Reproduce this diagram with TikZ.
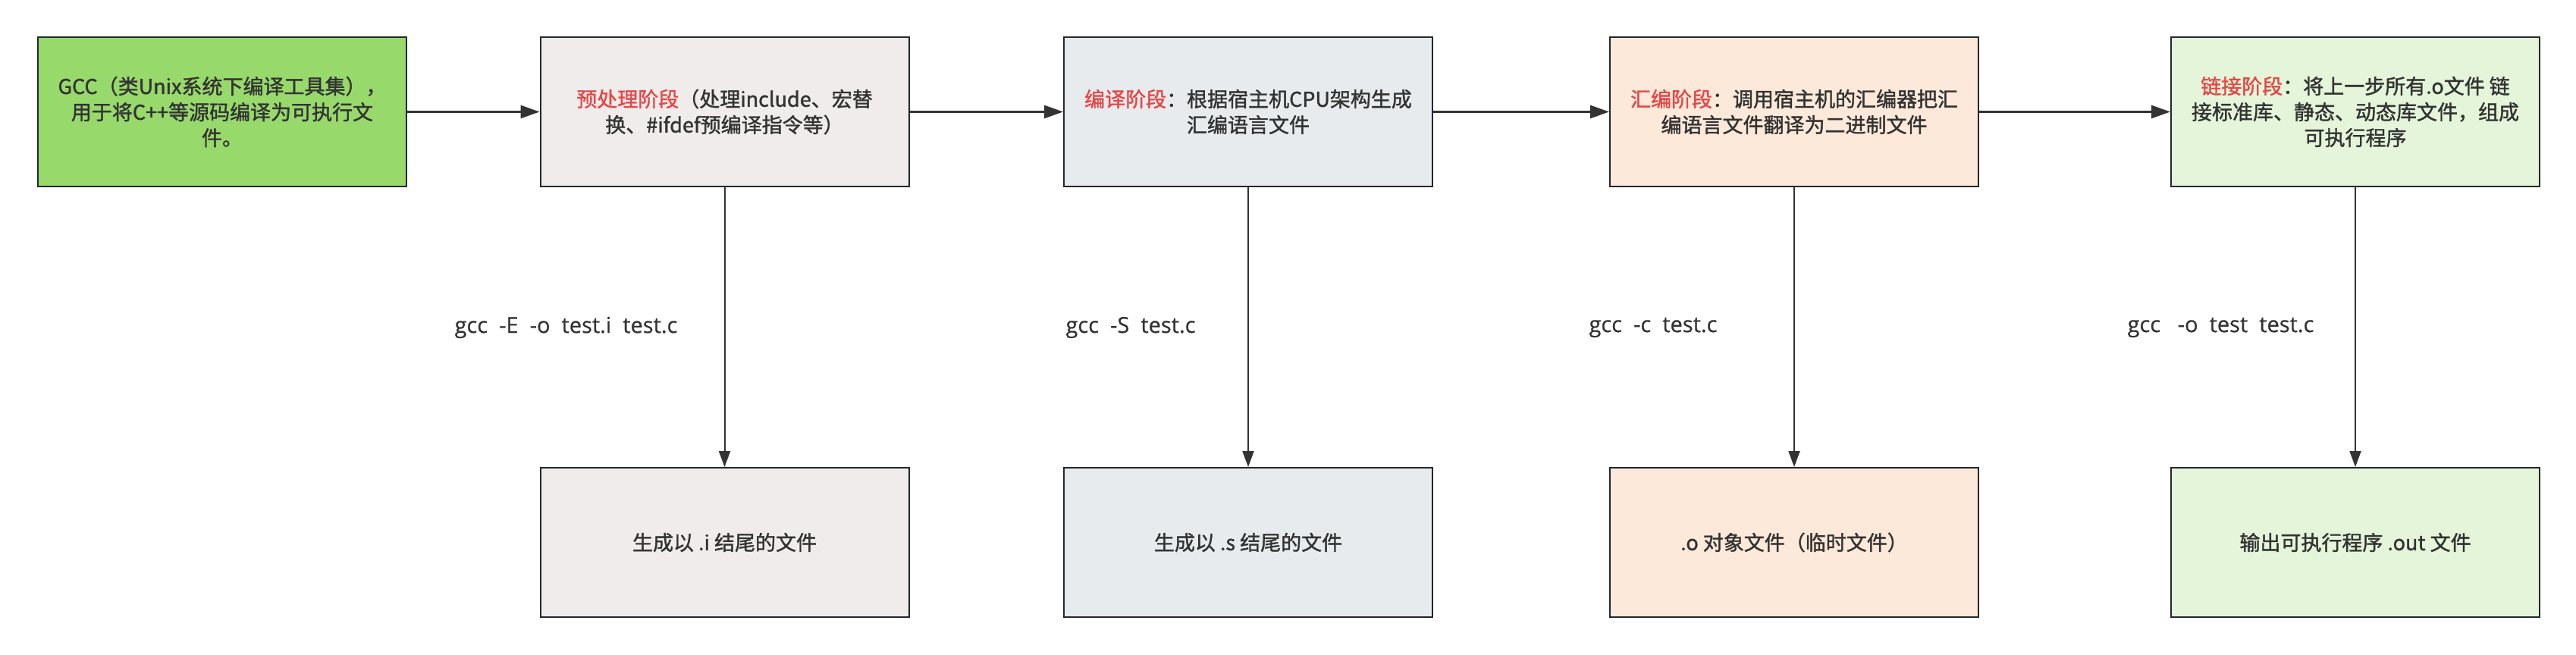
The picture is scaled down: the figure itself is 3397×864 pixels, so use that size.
\documentclass[tikz,border=0pt]{standalone}
\usepackage{fontspec}
\setmainfont{Noto Sans CJK SC}[FakeBold=1.4]
\newfontfamily\labfont{Open Sans}[FakeBold=0.6]
\usetikzlibrary{arrows.meta}
\definecolor{edge}{HTML}{23272E}
\definecolor{ink}{HTML}{333333}
\definecolor{hl}{HTML}{E54848}
\definecolor{cA}{HTML}{97D96B}
\definecolor{cB}{HTML}{F0ECEB}
\definecolor{cC}{HTML}{E7EBEE}
\definecolor{cD}{HTML}{FCE9D9}
\definecolor{cE}{HTML}{E4F5DA}
\begin{document}
\begin{tikzpicture}[x=1pt,y=-1pt,
  box/.style={draw=edge, line width=2pt, minimum width=486pt, minimum height=197pt,
    inner sep=0pt, align=center, font=\fontsize{27}{34}\selectfont, text=ink},
  harrow/.style={draw=ink, line width=2.7pt, -{Triangle[length=25pt,width=17pt]}},
  varrow/.style={draw=ink, line width=2pt, -{Triangle[length=21pt,width=15pt]}},
  cmd/.style={font=\labfont\fontsize{29}{34}\selectfont, text=ink, inner sep=0pt}]
\useasboundingbox (0,0) rectangle (3397,864);
\fill[white] (0,0) rectangle (3397,864);

\node[box, fill=cA] (g) at (293,147.5) {GCC（类Unix系统下编译工具集），\\用于将C++等源码编译为可执行文\\件。};
\node[box, fill=cB] (p) at (955.5,147.5) {{\color{hl}预处理阶段}（处理include、宏替\\换、\#ifdef预编译指令等）};
\node[box, fill=cC] (c) at (1646,147.5) {{\color{hl}编译阶段}：根据宿主机CPU架构生成\\汇编语言文件};
\node[box, fill=cD] (a) at (2366,147.5) {{\color{hl}汇编阶段}：调用宿主机的汇编器把汇\\编语言文件翻译为二进制文件};
\node[box, fill=cE] (l) at (3106,147.5) {{\color{hl}链接阶段}：将上一步所有.o文件 链\\接标准库、静态、动态库文件，组成\\可执行程序};

\node[box, fill=cB] (pi) at (955.5,715.5) {生成以 .i 结尾的文件};
\node[box, fill=cC] (cs) at (1646,715.5) {生成以 .s 结尾的文件};
\node[box, fill=cD] (ao) at (2366,715.5) {.o 对象文件（临时文件）};
\node[box, fill=cE] (lo) at (3106,715.5) {输出可执行程序 .out 文件};

\draw[harrow] (g) -- (p);
\draw[harrow] (p) -- (c);
\draw[harrow] (c) -- (a);
\draw[harrow] (a) -- (l);

\draw[varrow] (p) -- (pi);
\draw[varrow] (c) -- (cs);
\draw[varrow] (a) -- (ao);
\draw[varrow] (l) -- (lo);

\node[cmd] (t1) at (746.5,432) {gcc\ \ -E\ \ -o\ \ test.i\ \ test.c};
\node[cmd] (t2) at (1491,432) {gcc\ \ -S\ \ test.c};
\node[cmd] (t3) at (2180,432) {gcc\ \ -c\ \ test.c};
\node[cmd] (t4) at (2928.5,432) {gcc\ \ \ -o\ \ test\ \ test.c};
\end{tikzpicture}
\end{document}
